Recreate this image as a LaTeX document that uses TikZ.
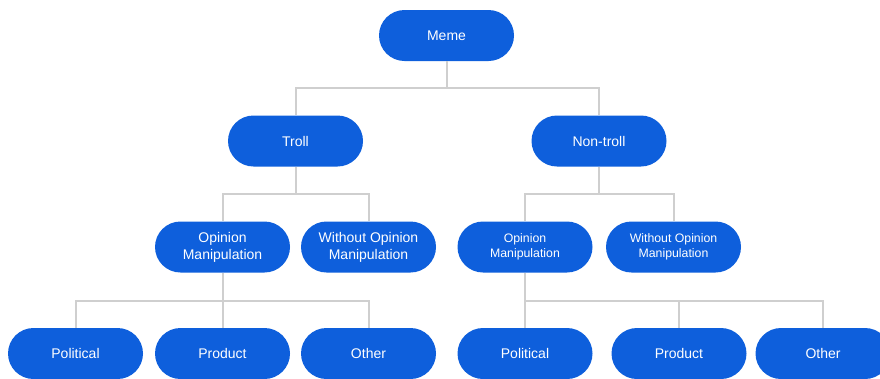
\documentclass[tikz,border=0pt]{standalone}
\usepackage{fontspec}
\setmainfont{Liberation Sans}
\definecolor{pillblue}{HTML}{0E5FDC}
\definecolor{linegray}{HTML}{CFCFCF}
\begin{document}
\begin{tikzpicture}[x=1pt,y=-1pt,
  pill/.style={fill=pillblue,draw=none,rounded corners=25.5pt,minimum width=135pt,minimum height=51pt,
    text=white,font=\fontsize{14}{17}\selectfont,align=center,inner sep=0pt},
  smallpill/.style={pill,font=\fontsize{12.3}{15}\selectfont},
  conn/.style={draw=linegray,line width=2pt}]
\useasboundingbox (0,0) rectangle (880,378);
\clip (0,0) rectangle (880,378);
\node[pill] (meme) at (446.5,35.5) {Meme};
\node[pill] (troll) at (295.5,141) {Troll};
\node[pill] (nontroll) at (599,141) {Non-troll};
\node[pill] (om1) at (222.5,247) {Opinion\\Manipulation};
\node[pill] (wom1) at (368.5,247) {Without Opinion\\Manipulation};
\node[smallpill] (om2) at (525,247) {Opinion\\Manipulation};
\node[smallpill] (wom2) at (673.5,247) {Without Opinion\\Manipulation};
\node[pill] (pol1) at (75.5,353.5) {Political};
\node[pill] (prod1) at (222.5,353.5) {Product};
\node[pill] (oth1) at (368.5,353.5) {Other};
\node[pill] (pol2) at (525,353.5) {Political};
\node[pill] (prod2) at (679,353.5) {Product};
\node[pill] (oth2) at (823,353.5) {Other};
\coordinate (j1) at (446.5,87.5);
\coordinate (j2) at (295.5,194);
\coordinate (j3) at (599,194);
\coordinate (j4) at (222.5,300.5);
\coordinate (j5) at (525,300.5);
\draw[conn] (meme.south) -- (j1) -| (troll.north);
\draw[conn] (j1) -| (nontroll.north);
\draw[conn] (troll.south) -- (j2) -| (om1.north);
\draw[conn] (j2) -| (wom1.north);
\draw[conn] (nontroll.south) -- (j3) -| (om2.north);
\draw[conn] (j3) -| (wom2.north);
\draw[conn] (om1.south) -- (j4) -| (pol1.north);
\draw[conn] (j4) -- (prod1.north);
\draw[conn] (j4) -| (oth1.north);
\draw[conn] (om2.south) -- (j5) -- (pol2.north);
\draw[conn] (j5) -| (prod2.north);
\draw[conn] (j5) -| (oth2.north);
\end{tikzpicture}
\end{document}
